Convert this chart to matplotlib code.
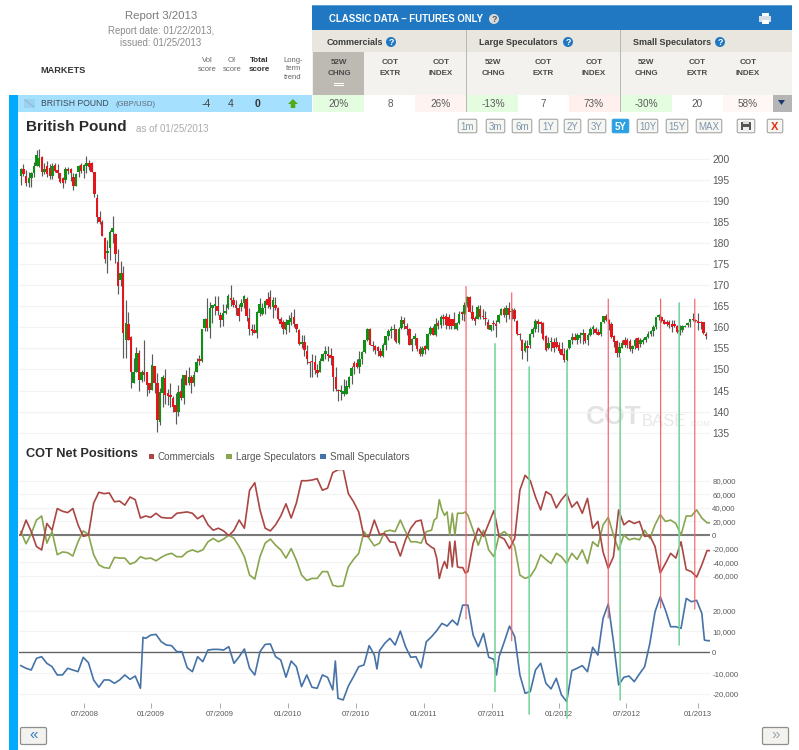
import numpy as np
import pandas as pd
import matplotlib
matplotlib.use("Agg")
import matplotlib.pyplot as plt
import matplotlib.dates as mdates
from matplotlib.patches import Rectangle, Circle, Polygon, FancyBboxPatch, ConnectionPatch

plt.rcParams['font.family'] = ['Liberation Sans', 'DejaVu Sans']

# ---------- weekly GBP/USD candles ----------
opens = [
 195.9,197.5,195.9,194.3,195.5,196.7,198.4,198.2,200.5,196.8,
 198.2,197.9,195.9,198.6,197.3,196.7,195.5,195.1,197.7,197.7,
 195.7,193.5,196.8,198.5,197.2,198.2,199.0,199.0,197.0,190.8,
 186.1,184.9,181.2,177.7,178.8,182.6,182.2,175.5,171.3,172.9,
 157.1,160.8,157.7,146.8,149.5,153.9,147.4,149.5,149.5,146.8,
 145.2,150.9,146.8,137.5,144.4,148.0,144.4,144.0,143.2,141.6,
 140.0,145.0,143.2,148.6,146.8,148.2,146.9,149.4,152.5,152.0,
 159.9,161.9,159.9,164.6,165.0,165.0,163.0,161.7,163.3,164.6,
 167.0,166.4,165.2,164.7,164.9,165.8,166.8,162.3,159.7,159.3,
 158.7,163.4,163.2,164.6,166.7,
 167.1,164.9,165.3,164.5,162.1,161.3,159.3,160.5,161.3,162.4,
 160.7,159.3,156.1,156.5,154.5,151.7,152.1,151.7,149.9,149.5,
 151.9,153.7,153.7,153.5,153.3,148.1,145.1,144.6,144.2,144.2,
 145.8,148.5,151.6,151.6,150.5,152.6,154.2,156.9,159.5,155.9,
 155.5,155.3,154.5,153.1,155.9,157.9,159.1,159.3,159.7,156.3,
 159.9,161.7,160.3,159.5,155.9,157.3,157.5,154.9,153.7,155.5,
 154.9,158.5,159.9,158.3,161.1,160.5,162.5,162.7,162.5,162.1,
 161.9,159.7,161.1,163.6,163.2,165.2,167.1,163.6,162.3,161.9,
 164.4,162.6,162.3,161.3,159.3,160.9,160.9,161.3,162.9,164.4,
 162.9,164.6,163.7,164.2,161.5,158.5,156.9,154.5,155.5,
 155.8,158.4,159.7,161.6,161.2,161.0,158.0,155.0,156.5,156.5,
 156.5,155.8,154.9,153.7,152.3,155.0,156.9,157.8,157.0,157.4,
 158.2,158.6,157.0,158.2,159.5,159.5,159.0,158.4,161.2,162.6,
 161.7,160.9,158.0,156.8,154.0,155.1,157.0,157.0,156.8,154.9,
 155.5,157.4,156.0,156.5,157.1,157.8,158.4,159.2,160.1,162.4,
 162.5,161.7,161.3,161.3,160.9,160.9,160.3,159.0,159.3,160.1,
 160.5,161.3,161.9,161.7,161.5,161.3,161.3,158.4]
closes = [
 197.5,196.3,194.3,195.5,196.7,198.4,201.0,200.2,196.8,197.7,
 196.3,195.9,198.4,197.2,196.7,194.5,194.3,197.7,197.2,196.7,
 193.5,196.4,198.2,197.2,198.5,199.0,198.0,196.8,191.6,186.1,
 185.1,181.8,176.3,178.2,182.6,183.5,177.3,169.9,172.9,158.7,
 161.0,157.1,149.5,149.5,153.9,147.4,149.5,148.7,146.4,145.2,
 151.1,146.8,137.9,144.6,148.2,144.0,143.6,143.4,141.2,140.0,
 144.6,143.2,148.6,146.4,148.2,146.9,148.6,151.7,152.0,159.5,
 161.9,159.9,164.6,165.4,165.6,164.0,161.7,163.3,164.0,167.5,
 166.6,165.2,164.6,162.7,165.8,167.4,162.7,159.7,159.1,158.7,
 163.6,165.5,164.6,166.2,165.2,
 164.8,166.4,164.5,162.1,160.9,159.5,161.3,161.7,162.3,160.9,
 159.7,156.1,156.6,154.7,152.5,151.5,151.7,149.9,149.1,151.9,
 153.7,154.3,153.1,152.7,148.1,145.3,144.8,145.1,145.0,146.0,
 148.1,150.3,150.5,150.5,152.6,154.2,156.9,159.5,155.9,155.5,
 154.7,154.3,153.3,155.9,157.9,159.1,159.5,159.7,156.5,159.7,
 161.7,160.7,159.5,155.9,157.3,157.9,154.9,153.7,155.1,154.7,
 158.5,159.9,158.3,160.9,160.3,162.5,161.9,160.5,160.3,160.3,
 160.3,161.1,163.2,163.1,165.2,167.1,163.6,161.9,161.5,164.8,
 162.4,162.4,161.9,159.7,160.5,160.7,160.3,162.9,164.4,162.9,
 164.6,162.9,164.0,161.9,158.5,158.1,154.3,156.3,155.2,
 158.4,159.7,161.6,160.9,160.9,157.2,154.7,156.4,156.8,155.1,
 155.4,154.4,153.5,152.3,154.7,156.9,157.8,157.0,158.2,158.2,
 158.6,156.7,158.2,159.5,160.1,158.7,158.2,161.2,162.6,161.7,
 160.7,157.8,156.6,153.9,155.3,156.2,155.9,155.9,154.9,155.5,
 157.1,155.2,157.1,157.1,157.8,158.4,159.2,160.1,162.4,162.9,
 161.5,160.9,160.7,160.5,160.1,160.3,159.0,159.3,160.3,160.3,
 161.0,161.9,161.7,161.5,161.0,161.0,158.6,158.0]
highs = [
 197.9,198.9,197.3,196.8,196.8,199.2,202.0,202.4,200.8,199.0,
 199.4,198.9,199.0,199.0,198.9,196.7,195.7,198.1,198.1,197.9,
 196.7,196.7,198.5,199.0,198.7,200.6,199.8,199.3,197.0,191.6,
 187.6,185.6,181.4,180.8,183.2,186.4,182.4,178.5,175.7,174.5,
 166.4,163.6,157.9,152.7,155.4,154.7,149.9,157.1,149.5,146.8,
 153.7,150.9,149.2,145.6,148.8,150.1,145.4,146.8,143.6,144.4,
 146.2,147.9,148.8,149.9,150.7,148.8,149.7,152.7,153.4,159.5,
 162.3,166.9,166.0,165.4,167.5,167.5,163.6,165.5,165.5,168.0,
 170.0,167.2,166.4,165.5,166.8,167.7,167.2,164.6,160.7,160.9,
 163.8,167.0,165.8,166.4,168.4,
 168.8,167.2,167.2,164.8,162.5,161.7,162.1,162.9,163.6,164.4,
 160.9,159.5,158.1,158.1,155.7,152.1,153.7,153.5,151.3,152.7,
 154.0,155.5,155.5,155.1,153.3,150.5,145.3,146.3,147.7,147.4,
 148.5,150.9,152.1,152.5,154.5,154.5,156.9,159.9,159.9,156.7,
 155.9,155.5,155.0,156.3,157.9,159.5,160.3,160.9,159.7,160.1,
 162.8,162.4,161.1,159.9,157.5,158.7,157.5,155.5,155.5,155.9,
 158.7,160.3,160.3,162.3,161.7,162.9,163.2,163.5,163.2,162.1,
 163.6,161.3,164.0,164.0,166.0,167.4,167.4,165.2,162.7,165.4,
 165.4,164.4,164.0,162.1,160.5,161.7,161.7,163.2,164.6,164.8,
 165.2,166.0,164.7,164.6,161.7,158.7,157.3,156.9,156.9,
 158.7,160.0,162.0,162.0,161.5,161.2,158.2,157.8,157.8,157.4,
 157.8,156.6,156.6,155.0,155.2,156.9,158.6,158.7,158.6,159.0,
 159.6,158.6,158.7,160.0,160.5,160.1,159.6,161.2,162.8,163.1,
 162.1,161.2,158.2,157.0,156.6,157.0,157.8,157.4,157.2,155.7,
 157.4,157.6,157.4,157.4,158.0,159.1,159.4,160.5,162.5,163.2,
 162.7,162.1,161.7,161.7,161.7,161.7,160.5,160.5,160.5,160.5,
 161.3,162.1,163.3,161.9,163.3,161.5,161.3,158.8]
lows = [
 193.9,195.9,193.5,193.3,193.3,195.7,198.4,198.0,195.9,196.3,
 195.7,195.3,195.3,197.0,195.5,194.3,193.0,194.3,196.3,194.7,
 192.7,193.5,195.7,196.6,195.5,196.7,197.4,196.8,191.0,184.8,
 184.5,181.8,175.3,172.9,176.1,180.0,175.3,167.9,169.7,152.7,
 152.7,157.1,145.6,146.8,149.5,144.8,147.0,147.2,143.8,144.3,
 145.2,144.3,135.1,136.7,141.2,141.7,141.5,141.2,140.0,137.1,
 139.0,142.8,141.7,146.2,146.2,144.3,146.0,149.4,151.0,151.7,
 159.1,159.1,157.5,161.1,163.0,162.9,160.0,160.3,163.2,164.4,
 165.0,164.8,162.9,161.5,164.0,164.6,161.5,158.1,158.3,158.7,
 157.4,162.6,162.9,163.2,164.6,
 164.4,162.2,164.2,161.7,160.2,158.5,158.4,158.9,160.5,160.1,
 158.9,155.7,155.1,153.3,151.3,148.1,148.3,149.0,148.1,149.5,
 151.9,152.5,152.1,151.1,145.0,145.0,142.6,142.7,143.8,144.2,
 145.6,146.5,148.9,150.3,149.1,151.3,154.0,156.7,155.9,154.3,
 153.7,153.3,152.9,152.9,154.7,156.9,157.5,156.9,156.3,156.1,
 159.5,159.5,158.1,155.7,154.3,155.9,154.5,153.3,153.1,153.7,
 154.7,158.2,158.2,157.9,159.7,159.9,160.5,159.7,159.7,159.7,
 159.7,159.3,160.7,161.7,161.5,164.8,163.6,161.7,160.5,161.9,
 161.9,161.9,160.5,159.5,159.2,159.3,157.7,161.1,162.9,162.4,
 161.3,162.1,162.1,161.5,158.1,156.9,152.5,154.1,151.9,
 155.2,157.8,158.8,159.0,158.6,157.1,154.4,154.8,154.4,154.1,
 155.0,153.9,153.4,151.8,152.1,154.8,156.1,157.0,156.0,156.2,
 156.0,156.2,155.9,158.0,158.4,158.4,158.2,158.0,161.0,161.5,
 159.4,157.5,155.3,152.9,152.9,155.1,155.4,155.1,154.5,154.0,
 154.9,154.7,155.4,156.0,156.5,157.4,158.0,158.0,159.7,161.7,
 161.3,160.9,160.3,159.9,159.0,160.1,158.7,158.3,158.9,160.0,
 160.2,160.1,161.5,161.3,159.4,159.6,158.4,157.3]
candle_first = '2008-01-12'
candle_last = '2013-01-30'

# ---------- COT net positions (thousands of contracts) ----------
series_start = '2008-01-12'
net_weeks = list(range(0, 159, 2)) + list(range(159, 173)) + list(range(174, 265, 2)) + [265]
commercials_k = [
 1,22,5,-17,-22,17,7,39,35,33,39,15,-2,0,47,63,61,62,49,50,44,56,52,25,28,26,32,26,25,25,
 32,33,34,32,24,29,15,7,10,6,-1,7,22,10,66,77,37,10,
 6,15,28,46,25,47,80,80,81,83,66,69,92,96,97,61,49,34,-2,-2,22,1,2,-10,-11,-31,-7,10,20,22,-12,
 -18,-20,-34,-64,-49,-39,-49,-10,-47,-9,-47,-48,-48,-56,-54,
 -12,10,-2,17,36,-2,-6,-20,-5,66,
 88,80,56,37,64,59,40,52,61,41,49,32,54,10,20,-25,-49,-32,37,15,21,17,20,-2,-1,-17,-56,-42,-27,-34,-10,-51,-54,-62,-44,-23,-23]
large_spec_k = [
 5,-13,2,22,28,-12,5,-29,-25,-26,-31,-10,6,1,-29,-44,-48,-49,-33,-34,-34,-43,-40,-32,-35,-34,-38,-33,-29,-27,
 -32,-32,-25,-22,-25,-22,-10,-5,-10,-6,0,-5,-17,-32,-59,-65,-32,-12,
 -6,-15,-22,-34,-20,-37,-59,-67,-64,-64,-54,-54,-74,-76,-75,-47,-36,-27,5,-5,-16,-12,5,7,5,22,5,-10,-10,-12,5,
 7,22,25,52,37,29,34,0,32,0,32,32,32,34,29,
 7,-15,7,-22,-32,0,5,-2,-17,-59,
 -64,-61,-49,-29,-36,-42,-27,-32,-42,-27,-36,-22,-42,-10,-17,15,26,0,-22,0,-7,-5,-7,7,-5,15,30,20,22,17,0,28,28,37,25,18,18]

small_weeks = (list(range(0, 47, 2)) + [47] + list(range(48, 121, 2)) + [121] +
               list(range(122, 137, 2)) + [137] + list(range(138, 183, 2)) + [183] +
               list(range(184, 263, 2)) + [263, 264, 265])
small_spec_k = [
 -6.4,-7.7,-8.5,-2.9,-2.1,-5.3,-6.9,-10.9,-10.9,-7.7,-8.5,-9.3,-2.4,-5,-13.3,-16.8,-13.3,-13.3,-14.9,-13.3,-10.9,-13,-11.4,-17.3,
 7.2,
 6.7,8.3,8.6,5.1,3.5,3.2,0.3,0.3,-7.4,-9.3,-2.1,-4.5,1.1,1.4,1.4,1.1,2.7,-5.3,-2.1,1.6,-7.7,-10.9,0.3,3.8,4,-2.1,-3.7,-12,-4.2,-6.9,-16.5,-10.9,-16.8,-17.3,-10.9,-12,-18.1,
 -4.2,
 -22.1,-22.9,-16.2,-11.7,-6.9,-6.1,3.2,-1.3,
 -8,
 0.8,4.3,6.7,3.5,10.2,2.7,-2.4,-2.1,-7.4,5.1,7.5,10.4,13.9,12.6,15.5,13.1,22.7,22.7,8.3,2.7,9.1,-2.4,-3.4,
 -10.9,
 -2.1,5.1,12.6,7.5,-10.9,-19.7,-18.9,-8.5,-5.3,-14.9,-17.6,-12.5,-20.5,-23.7,-8.8,-7.7,-6.4,-9.3,2.4,-1.3,16.3,23.2,5.1,-15.7,-12,-11.4,-14.1,-10.4,-6.9,4.3,19.5,26.7,20.3,12.3,12.3,11.5,25.9,24.3,25,18.7,
 5.9,5.6,5.6]

# ---------- signal lines ----------
red_signal_dates = ['2011-04-25','2011-08-26','2012-05-12','2012-09-30','2012-12-31']
red_signal_top = [169.7,168.2,166.7,166.7,166.7]
red_signal_bottom = [16000,5600,16500,21300,20800]
green_signal_dates = ['2011-07-12','2011-10-12','2012-01-22','2012-06-13','2012-11-19']
green_signal_top = [156.1,150.6,151.8,152.7,165.8]
green_signal_bottom = [-18900,-29700,-31600,-22900,3500]

# ---------- axis ticks ----------
price_ticks = list(range(135, 201, 5))
net_ticks = [80000,60000,40000,20000,0,-20000,-40000,-60000]
net_tick_labels = ['80,000','60,000','40,000','20,000','0','-20,000','-40,000','-60,000']
small_ticks = [20000,10000,0,-10000,-20000]
small_tick_labels = ['20,000','10,000','0','-10,000','-20,000']
date_ticks = ['2008-07-01','2008-12-28','2009-07-01','2010-01-01','2010-07-02','2011-01-01','2011-07-03','2012-01-01','2012-06-30','2013-01-08']
date_tick_labels = ['07/2008','01/2009','07/2009','01/2010','07/2010','01/2011','07/2011','01/2012','07/2012','01/2013']

# ---------- header table text ----------
group_names = ['Commercials','Large Speculators','Small Speculators']
col_labels = [('52W','CHNG'),('COT','EXTR'),('COT','INDEX')] * 3
row_values = ['20%','8','26%','-13%','7','73%','-30%','20','58%']
row_bg = ['#e4fde0','#ffffff','#fff3f1','#e4fde0','#ffffff','#fff0ee','#e4fde0','#ffffff','#fff7f5']
range_buttons = ['1m','3m','6m','1Y','2Y','3Y','5Y','10Y','15Y','MAX']
button_spans = [(458,477),(486,505),(512,532),(539,558),(564,581),(588,606),(612,629),(637,658),(666,688),(696,722)]

assert len(opens) == len(closes) == len(highs) == len(lows)
assert len(net_weeks) == len(commercials_k) == len(large_spec_k), (len(net_weeks), len(commercials_k), len(large_spec_k))
assert len(small_weeks) == len(small_spec_k), (len(small_weeks), len(small_spec_k))

W, H = 799, 750
fig = plt.figure(figsize=(W/100, H/100), dpi=100, facecolor='white')

def panel(left, top, right, bottom, z):
    ax = fig.add_axes([left/W, 1-bottom/H, (right-left)/W, (bottom-top)/H], zorder=z)
    ax.patch.set_alpha(0)
    return ax

# ---------- page chrome ----------
bg = panel(0, 0, W, H, 0)
bg.set_xlim(0, W); bg.set_ylim(H, 0); bg.axis('off')
def rect(x0, y0, x1, y1, c, **k):
    bg.add_patch(Rectangle((x0, y0), x1-x0, y1-y0, fc=c, ec='none', **k))
def txt(x, y, s, size=6.5, color='#444444', weight='normal', ha='center', **k):
    bg.text(x, y, s, fontsize=size, color=color, fontweight=weight, ha=ha, va='center', **k)
def help_icon(x, y, fc='#1f78c1', tc='white'):
    bg.add_patch(Circle((x, y), 5, fc=fc, ec='none'))
    txt(x, y+0.3, '?', size=6.5, color=tc, weight='bold')
def printer(x, y, c):
    rect(x-3.5, y-6, x+3.5, y-2, 'white')
    rect(x-6, y-2.5, x+6, y+3, c)
    rect(x-3.5, y+1, x+3.5, y+5.5, 'white')
    rect(x-2.5, y+3, x+2.5, y+3.7, c)

rect(9, 95, 18, H, '#00aaff')
rect(18, 95, 312, 112, '#a6e0ff')
txt(161, 16, 'Report 3/2013', size=8.2, color='#7a7a7a')
txt(161, 31, 'Report date: 01/22/2013,', size=6.9, color='#8a8a8a')
txt(161, 43.5, 'issued: 01/25/2013', size=6.9, color='#8a8a8a')
txt(63, 70.5, 'MARKETS', size=6.6, color='#333333', weight='bold')
txt(207, 60.5, 'Vol', size=5.5, color='#666666'); txt(207, 69.5, 'score', size=5.5, color='#666666')
txt(232, 60.5, 'OI', size=5.5, color='#666666'); txt(232, 69.5, 'score', size=5.5, color='#666666')
txt(259.5, 60.5, 'Total', size=5.8, color='#333333', weight='bold'); txt(259.5, 69.5, 'score', size=5.8, color='#333333', weight='bold')
for yy, s in zip((60.5, 69, 77.5), ('Long-', 'term', 'trend')):
    txt(293, yy, s, size=5.5, color='#666666')
bg.plot([25, 34], [100, 107], color='#8fb5cc', lw=0.7)
rect(24, 99, 35, 108, '#8fc6e2', alpha=0.5)
txt(41, 104, 'BRITISH POUND', size=6.2, color='#3b4a55', ha='left')
txt(116, 104.5, '(GBP/USD)', size=5.6, color='#5a6a75', ha='left')
txt(206, 104, '-4', size=7.5, color='#444444'); txt(231, 104, '4', size=7.5, color='#444444')
txt(257.5, 104, '0', size=7.5, color='#333333', weight='bold')
bg.add_patch(Polygon([(293, 99), (298, 104), (295.3, 104), (295.3, 108), (290.7, 108), (290.7, 104), (288, 104)], fc='#55a818', ec='none'))

rect(312, 5, 792, 30, '#1f78c1')
rect(312, 5, 792, 6, '#5aa0d6')
txt(329, 19, 'CLASSIC DATA – FUTURES ONLY', size=6.9, color='white', weight='bold', ha='left')
help_icon(494, 19, fc='#d9d9d9', tc='#555555')
printer(765, 18.5, '#d5dde5')
rect(312, 30, 792, 52, '#e8e6df')
rect(312, 52, 792, 95, '#f3f2ee')
rect(313, 52, 364, 95, '#bdbab3')
for x, name in zip((355, 518.5, 672), group_names):
    txt(x, 42.5, name, size=6.5, color='#3c3c3c', weight='bold')
help_icon(391, 42); help_icon(568, 42); help_icon(720, 42)
for x in (466.5, 620.5):
    rect(x-0.4, 30, x+0.4, 112, '#b8b8b2')
col_x = [339, 390, 441, 493, 543, 594, 646, 697, 748]
for x, (a, b) in zip(col_x, col_labels):
    txt(x, 62, a, size=5.8, color='#4a4a4a', weight='bold')
    txt(x, 73.5, b, size=5.8, color='#4a4a4a', weight='bold')
rect(334, 83, 344, 83.8, 'white'); rect(334, 85, 344, 85.8, 'white')
col_edges = [(313,364),(364,415),(415,466),(467,518),(518,569),(569,620),(621,672),(672,723),(723,773)]
for x, val, (e0, e1), c in zip(col_x, row_values, col_edges, row_bg):
    rect(e0, 95, e1, 112, c)
    txt(x, 104, val, size=7.2, color='#5a5a5a')
rect(773, 95, 792, 112, '#b5b5b5')
bg.add_patch(Polygon([(778, 100), (785, 100), (781.5, 105)], fc='#1f3a70', ec='none'))

txt(26, 127, 'British Pound', size=11, color='#2b2b2b', weight='bold', ha='left')
txt(136, 129.5, 'as of 01/25/2013', size=7, color='#aaaaaa', ha='left')
for (x0, x1), lab in zip(button_spans, range_buttons):
    on = lab == '5Y'
    bg.add_patch(FancyBboxPatch((x0+1, 120), x1-x0-2, 12, boxstyle='round,pad=0.8,rounding_size=1.5',
                                fc='#2aa0e0' if on else '#f6f6f2', ec='#2aa0e0' if on else '#9a9a9a', lw=0.7))
    txt((x0+x1)/2, 126.5, lab, size=7, color='white' if on else '#7f97ad', weight='bold' if on else 'normal')
bg.add_patch(FancyBboxPatch((738, 120), 16, 12, boxstyle='round,pad=0.8,rounding_size=1.5', fc='#f6f6f2', ec='#9a9a9a', lw=0.7))
rect(741, 122, 751, 130, '#555555'); rect(743, 121, 749, 124, '#dddddd'); rect(743, 127, 749, 131, '#eeeeee')
bg.add_patch(FancyBboxPatch((768, 120), 14, 12, boxstyle='round,pad=0.8,rounding_size=1.5', fc='#f6f6f2', ec='#9a9a9a', lw=0.7))
txt(775, 126.5, 'X', size=8, color='#e03010', weight='bold')

txt(26, 454, 'COT Net Positions', size=9.2, color='#2b2b2b', weight='bold', ha='left')
for x, c, s in ((151.5, '#aa4643', 'Commercials'), (229, '#89a54e', 'Large Speculators'), (323, '#4572a7', 'Small Speculators')):
    rect(x-2.8, 453.5, x+2.8, 459, c)
    txt(x+6.5, 456.5, s, size=7.1, color='#555555', ha='left')

txt(586, 417, 'COT', size=19, color='#e2e2e2', weight='bold', ha='left')
txt(642, 421, 'BASE', size=12, color='#e8e8e8', ha='left')
txt(689.5, 425, '.COM', size=5.8, color='#e8e8e8', ha='left')

for x0, x1, c in ((21, 46, '#2f7fc4'), (763, 788, '#9aa5ae')):
    bg.add_patch(FancyBboxPatch((x0, 728), x1-x0, 16, boxstyle='round,pad=0.5,rounding_size=1.5', fc='#f3f2ee', ec='#8e8e8e', lw=0.9))
txt(33.5, 734.5, '«', size=11, color='#2f7fc4')
txt(775.5, 734.5, '»', size=11, color='#9aa5ae')

# ---------- shared x scale ----------
X_MIN = mdates.date2num(pd.Timestamp('2008-01-07'))
X_MAX = mdates.date2num(pd.Timestamp('2013-02-10'))
to_num = lambda s: mdates.date2num(pd.to_datetime(s))
week_0 = to_num(series_start)
def week_x(weeks):
    return week_0 + 7.0 * np.asarray(weeks)

AX_L, AX_R = 19, 710
def style(ax, ticks, labels, size):
    ax.set_xlim(X_MIN, X_MAX)
    for s in ax.spines.values():
        s.set_visible(False)
    ax.yaxis.tick_right()
    ax.set_yticks(ticks)
    ax.set_yticklabels(labels)
    ax.tick_params(axis='y', length=0, pad=1.6, labelsize=size, labelcolor='#5a5a5a')
    ax.set_xticks([])
    ax.set_axisbelow(True)
    ax.grid(axis='y', color='#f3f3f3', lw=0.9)

# ---------- price panel ----------
ax_p = panel(AX_L, 145, AX_R, 440, 1)
ax_p.set_ylim(133.25, 203.3)
style(ax_p, price_ticks, [str(v) for v in price_ticks], 7.4)
candle_x = mdates.date2num(pd.date_range(candle_first, candle_last, periods=len(opens)))
o, c, h, l = map(np.asarray, (opens, closes, highs, lows))
ax_p.vlines(candle_x, l, h, color='#5a5a5a', lw=0.85, zorder=2)
up = c >= o
colors = np.where(up, '#0f9015', '#e3171b')
body = np.maximum(np.abs(c-o), 0.3)
ax_p.bar(candle_x, body, bottom=np.minimum(o, c), width=6.6, color=colors, linewidth=0, zorder=3)

# ---------- net positions panel ----------
ax_n = panel(AX_L, 470, AX_R, 600, 2)
ax_n.set_ylim(-95800, 95800)
style(ax_n, net_ticks, net_tick_labels, 5.6)
ax_n.axhline(0, color='#7a7a7a', lw=1.5, zorder=1)
ax_n.plot(week_x(net_weeks), np.array(large_spec_k)*1000, color='#89a54e', lw=1.2, zorder=3)
ax_n.plot(week_x(net_weeks), np.array(commercials_k)*1000, color='#aa4643', lw=1.2, zorder=3)

# ---------- small speculators panel ----------
ax_s = panel(AX_L, 595, AX_R, 702.7, 3)
ax_s.set_ylim(-24231, 27548)
style(ax_s, small_ticks, small_tick_labels, 5.6)
ax_s.axhline(0, color='#606060', lw=0.95, zorder=1)
ax_s.plot(week_x(small_weeks), np.array(small_spec_k)*1000, color='#4572a7', lw=1.2, zorder=3)
ax_s.set_xticks(to_num(date_ticks))
ax_s.set_xticklabels(date_tick_labels)
ax_s.tick_params(axis='x', length=3.9, width=0.7, color='#aaaaaa', pad=2, labelsize=5.6, labelcolor='#5a5a5a')

# ---------- signal lines through all panels ----------
def signals(dates, tops, bottoms, color, lw):
    for d, t, b in zip(to_num(dates), tops, bottoms):
        fig.add_artist(ConnectionPatch(xyA=(d, t), coordsA=ax_p.transData,
                                       xyB=(d, b), coordsB=ax_s.transData,
                                       color=color, lw=lw, zorder=10))
signals(green_signal_dates, green_signal_top, green_signal_bottom, '#78d49a', 1.15)
signals(red_signal_dates, red_signal_top, red_signal_bottom, '#f4646a', 0.85)

fig.savefig('out.png', dpi=100, facecolor='white')
